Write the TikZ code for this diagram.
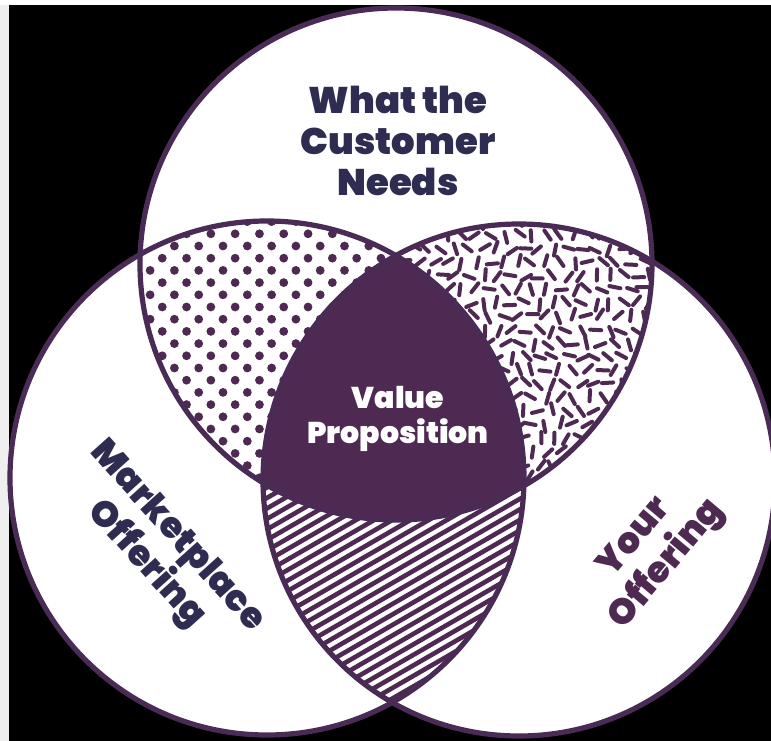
\documentclass[tikz,border=0pt]{standalone}
\usepackage{fontspec}
\setmainfont{Poppins}[BoldFont={Poppins Black}]
\definecolor{vpurple}{HTML}{4E2A52}
\definecolor{linecol}{HTML}{4A2B55}
\definecolor{navytext}{HTML}{2F2C51}
\definecolor{stripgray}{HTML}{EFEFEF}
\tikzset{
  ringline/.style={draw=linecol, line width=5.2pt},
  bigtext/.style={align=center, text=navytext, font=\fontsize{37}{41}\selectfont\bfseries, inner sep=0pt},
  sidetext/.style={align=center, font=\fontsize{36}{42}\selectfont\bfseries, inner sep=0pt},
  vptext/.style={align=center, text=white, font=\fontsize{30}{35}\selectfont\bfseries, inner sep=0pt},
  sprinkle/.style={draw=vpurple, line width=4pt, line cap=round},
  stripe/.style={draw=vpurple, line width=4.6pt}
}
\begin{document}
\begin{tikzpicture}[x=1pt,y=-1pt]
\useasboundingbox (0,0) rectangle (771,741);
\fill[stripgray] (0,0) rectangle (771,741);
\fill[white] (0,0) rectangle (771,5);
\fill[black] (9,5) rectangle (771,741);
\def\topc{(396,264) circle (256pt)}
\def\leftc{(267,478) circle (257pt)}
\def\rightc{(519,480) circle (256pt)}
% white discs
\fill[white] \topc;
\fill[white] \leftc;
\fill[white] \rightc;
% dots: top and left
\begin{scope}
  \clip \topc; \clip \leftc;
  \foreach \j in {0,...,24} {
    \foreach \i in {0,...,13} {
      \pgfmathsetmacro{\xx}{125.8+\i*24.3+mod(\j,2)*12.15}
      \pgfmathsetmacro{\yy}{221.6+\j*12.2}
      \fill[vpurple] (\xx,\yy) circle (4.4pt);
    }
  }
\end{scope}
% sprinkles: top and right
\begin{scope}
  \clip \topc; \clip \rightc;
  \pgfmathsetseed{11}
  \foreach \j in {0,...,19} {
    \foreach \i in {0,...,20} {
      \pgfmathsetmacro{\xx}{385+\i*14+mod(\j,2)*7+rand*2.5}
      \pgfmathsetmacro{\yy}{222+\j*13.5+rand*2.5}
      \pgfmathsetmacro{\ang}{rnd*180}
      \pgfmathsetmacro{\dx}{5.6*cos(\ang)}
      \pgfmathsetmacro{\dy}{5.6*sin(\ang)}
      \draw[sprinkle] ({\xx+\dx},{\yy+\dy}) -- ({\xx-\dx},{\yy-\dy});
    }
  }
\end{scope}
% stripes: left and right
\begin{scope}
  \clip \leftc; \clip \rightc;
  \foreach \k in {0,...,48} {
    \pgfmathsetmacro{\yy}{440+\k*10.5}
    \draw[stripe] (240,\yy) -- (560,{\yy-184.8});
  }
\end{scope}
% value proposition
\begin{scope}
  \clip \topc; \clip \leftc;
  \fill[vpurple] \rightc;
\end{scope}
% outlines
\draw[ringline] \topc;
\draw[ringline] \leftc;
\draw[ringline] \rightc;
% texts
\node[bigtext] (need) at (398,141) {What the\\Customer\\Needs};
\node[vptext] (vp) at (398,419) {Value\\Proposition};
\node[sidetext, text=navytext, rotate=-48] (market) at (161,551) {Marketplace\\Offering};
\node[sidetext, text=vpurple, rotate=50] (yours) at (652,552) {Your\\Offering};
\end{tikzpicture}
\end{document}
